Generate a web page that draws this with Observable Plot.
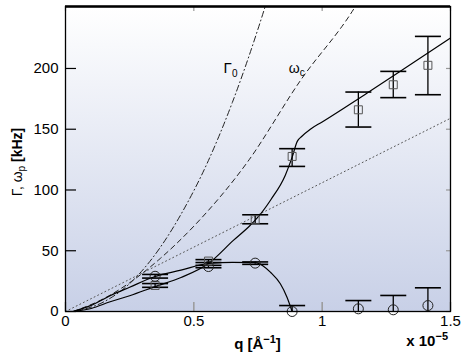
<!DOCTYPE html>
<html><head><meta charset="utf-8">
<script src="https://cdn.jsdelivr.net/npm/d3@7"></script>
<script src="https://cdn.jsdelivr.net/npm/@observablehq/plot@0.6"></script>
<style>body{margin:0;background:#fff} #chart svg{display:block}</style>
</head><body><div id="chart"></div>
<script>
// ---- data (q in units of 1e-5 Å^-1, values in kHz) ----
const xDomain = [0, 1.5];
const yDomain = [0, 251];
const xTicks = [0, 0.5, 1, 1.5];
const xTickLabels = ["0", "0.5", "1", "1.5"];
const yTicks = [0, 50, 100, 150, 200];

const measQ = [0.349, 0.557, 0.739, 0.883, 1.141, 1.277, 1.412];
const sqV  = [21.4, 41.5, 75.5, 127.6, 166, 186.6, 202.6];
const sqLo = [19.9, 40.3, 72.2, 119.4, 151.8, 176, 178.4];
const sqHi = [23.0, 42.7, 79.6, 134, 180.6, 197.6, 226.4];
const ciV  = [29, 37, 39.8, 0, 2.2, 1.4, 4.9];
const ciLo = [27.5, 36, 38.8, 0, 0, 0, 0];
const ciHi = [30.5, 38, 40.8, 4.9, 9, 13.2, 19.5];

const gammaQ = [0.03, 0.15, 0.25, 0.3375, 0.45, 0.552, 0.65, 0.778, 0.8];
const gammaV = [0, 8, 23, 43.6, 80, 122, 172, 251, 266];
const omegaCQ = [0.03, 0.15, 0.25, 0.369, 0.5, 0.708, 0.915, 1.129, 1.16];
const omegaCV = [0, 10.7, 23.7, 43.6, 70.2, 122.7, 190, 251, 262];
const linQ = [0, 1.5];
const linV = [0, 159];
const fitCircQ = [0.03, 0.1, 0.174, 0.25, 0.349, 0.45, 0.557, 0.65, 0.739, 0.77, 0.798, 0.837, 0.863, 0.883];
const fitCircV = [0, 5, 13, 20, 28.8, 34, 39.5, 40.5, 40.2, 37.5, 32.4, 22.8, 11.8, 0];
const fitSqQ = [0.03, 0.1, 0.174, 0.25, 0.349, 0.45, 0.557, 0.654, 0.72, 0.747, 0.8, 0.856, 0.883, 0.903, 0.92, 0.954, 1.0, 1.177, 1.3, 1.5];
const fitSqV = [0, 2.5, 8, 13, 20.5, 28, 39.5, 58.5, 71, 77, 92, 112, 127, 140, 144, 150, 156, 180, 197, 225];

// ---- build tables ----
const pts = (q, v) => q.map((d, i) => ({q: d, v: v[i]}));
const errs = (q, v, lo, hi) => q.map((d, i) => ({q: d, v: v[i], lo: lo[i], hi: hi[i]}));
const squares = errs(measQ, sqV, sqLo, sqHi);
const circles = errs(measQ, ciV, ciLo, ciHi);

const M = {left: 65, right: 21, top: 6, bottom: 49};
const W = 471, H = 360;
const frameW = W - M.left - M.right, frameH = H - M.top - M.bottom;
const cap = {draw(ctx) { ctx.moveTo(-13, 0); ctx.lineTo(13, 0); }};
const font = "'Liberation Sans', Arial, Helvetica, sans-serif";

const plot = Plot.plot({
  width: W, height: H,
  marginLeft: M.left, marginRight: M.right, marginTop: M.top, marginBottom: M.bottom,
  style: {fontFamily: font, fontSize: "15px", background: "white", color: "black", overflow: "visible"},
  x: {domain: xDomain, ticks: xTicks, tickFormat: d => xTickLabels[xTicks.indexOf(d)], tickSize: 0, tickPadding: 4, label: null},
  y: {domain: yDomain, ticks: yTicks, tickSize: 0, tickPadding: 7, label: null},
  marks: [
    Plot.frame({fill: "url(#bgGrad)"}),
    Plot.tickY(yTicks, {y: d => d, stroke: "black", strokeWidth: 1.2, insetRight: frameW - 11}),
    Plot.tickY(yTicks, {y: d => d, stroke: "#999", strokeWidth: 1.2, insetLeft: frameW - 4}),
    Plot.tickX(xTicks, {x: d => d, stroke: "#999", strokeWidth: 1.5, insetTop: frameH - 9}),
    Plot.tickX(xTicks, {x: d => d, stroke: "#999", strokeWidth: 1.2, insetBottom: frameH - 5}),
    Plot.line(pts(linQ, linV), {x: "q", y: "v", stroke: "#555", strokeWidth: 1, strokeDasharray: "1,3"}),
    Plot.line(pts(gammaQ, gammaV), {x: "q", y: "v", stroke: "#222", strokeWidth: 1, strokeDasharray: "6,3,1,3", curve: "monotone-x", clip: true}),
    Plot.line(pts(omegaCQ, omegaCV), {x: "q", y: "v", stroke: "#222", strokeWidth: 1, strokeDasharray: "5,4", curve: "monotone-x", clip: true}),
    Plot.line(pts(fitCircQ, fitCircV), {x: "q", y: "v", stroke: "black", strokeWidth: 1.2, curve: "monotone-x"}),
    Plot.line(pts(fitSqQ, fitSqV), {x: "q", y: "v", stroke: "black", strokeWidth: 1.2, curve: "monotone-x"}),
    Plot.ruleX(squares, {x: "q", y1: "lo", y2: "hi", stroke: "black", strokeWidth: 1.3}),
    Plot.ruleX(circles, {x: "q", y1: "lo", y2: "hi", stroke: "black", strokeWidth: 1.3}),
    Plot.dot(squares, {x: "q", y: "hi", symbol: cap, stroke: "black", strokeWidth: 1.6}),
    Plot.dot(squares, {x: "q", y: "lo", symbol: cap, stroke: "black", strokeWidth: 1.6}),
    Plot.dot(circles, {x: "q", y: "hi", symbol: cap, stroke: "black", strokeWidth: 1.6}),
    Plot.dot(circles.filter(d => d.lo > 0), {x: "q", y: "lo", symbol: cap, stroke: "black", strokeWidth: 1.6}),
    Plot.dot(squares, {x: "q", y: "v", symbol: "square", r: 4.5, stroke: "#555", fill: "none", strokeWidth: 1}),
    Plot.dot(circles, {x: "q", y: "v", r: 5, stroke: "#222", fill: "none", strokeWidth: 1}),
    Plot.frame({stroke: "black", strokeWidth: 1.3}),
    Plot.ruleY([yDomain[1]], {stroke: "black", strokeWidth: 2.4})
  ]
});
document.getElementById("chart").append(plot);

// ---- gradient background & rich-text labels ----
const svg = d3.select(plot);
const defs = svg.insert("defs", ":first-child");
const grad = defs.append("linearGradient").attr("id", "bgGrad").attr("x1", 0).attr("y1", 0).attr("x2", 0).attr("y2", 1);
grad.append("stop").attr("offset", "0%").attr("stop-color", "#ffffff");
grad.append("stop").attr("offset", "100%").attr("stop-color", "#c8d0e7");

const sx = d3.scaleLinear(xDomain, [M.left, W - M.right]);
const sy = d3.scaleLinear(yDomain, [H - M.bottom, M.top]);

function rich(x, y, parts, opts = {}) {
  const t = svg.append("text").attr("x", x).attr("y", y)
    .attr("font-family", font).attr("font-size", opts.size || 14)
    .attr("text-anchor", opts.anchor || "start").attr("fill", "black");
  if (opts.rotate) t.attr("transform", `rotate(${opts.rotate},${x},${y})`);
  for (const p of parts) {
    const s = t.append("tspan").text(p.t);
    if (p.bold) s.attr("font-weight", "bold");
    if (p.size) s.attr("font-size", p.size);
    if (p.dy) s.attr("dy", p.dy);
  }
  return t;
}

// curve labels (anchor positions in data units)
const gammaLabelAt = [0.618, 196];
const omegaLabelAt = [0.872, 196];
rich(sx(gammaLabelAt[0]), sy(gammaLabelAt[1]), [{t: "Γ", size: 15}, {t: "0", size: 10, dy: 4}]);
rich(sx(omegaLabelAt[0]), sy(omegaLabelAt[1]), [{t: "ω", size: 14}, {t: "c", size: 10, dy: 3}]);

// axis titles
rich((M.left + W - M.right) / 2, 349, [{t: "q [Å", bold: true}, {t: "−1", bold: true, size: 11, dy: -6}, {t: "]", bold: true, dy: 6}], {anchor: "middle", size: 15});
rich(448, 346, [{t: "x 10", bold: true}, {t: "−5", bold: true, size: 11, dy: -6}], {anchor: "end", size: 15});
rich(22, 162, [{t: "Γ, ω"}, {t: "p", size: 10, dy: 3}, {t: " [kHz]", bold: true, dy: -3}], {anchor: "middle", rotate: -90});
</script></body></html>
